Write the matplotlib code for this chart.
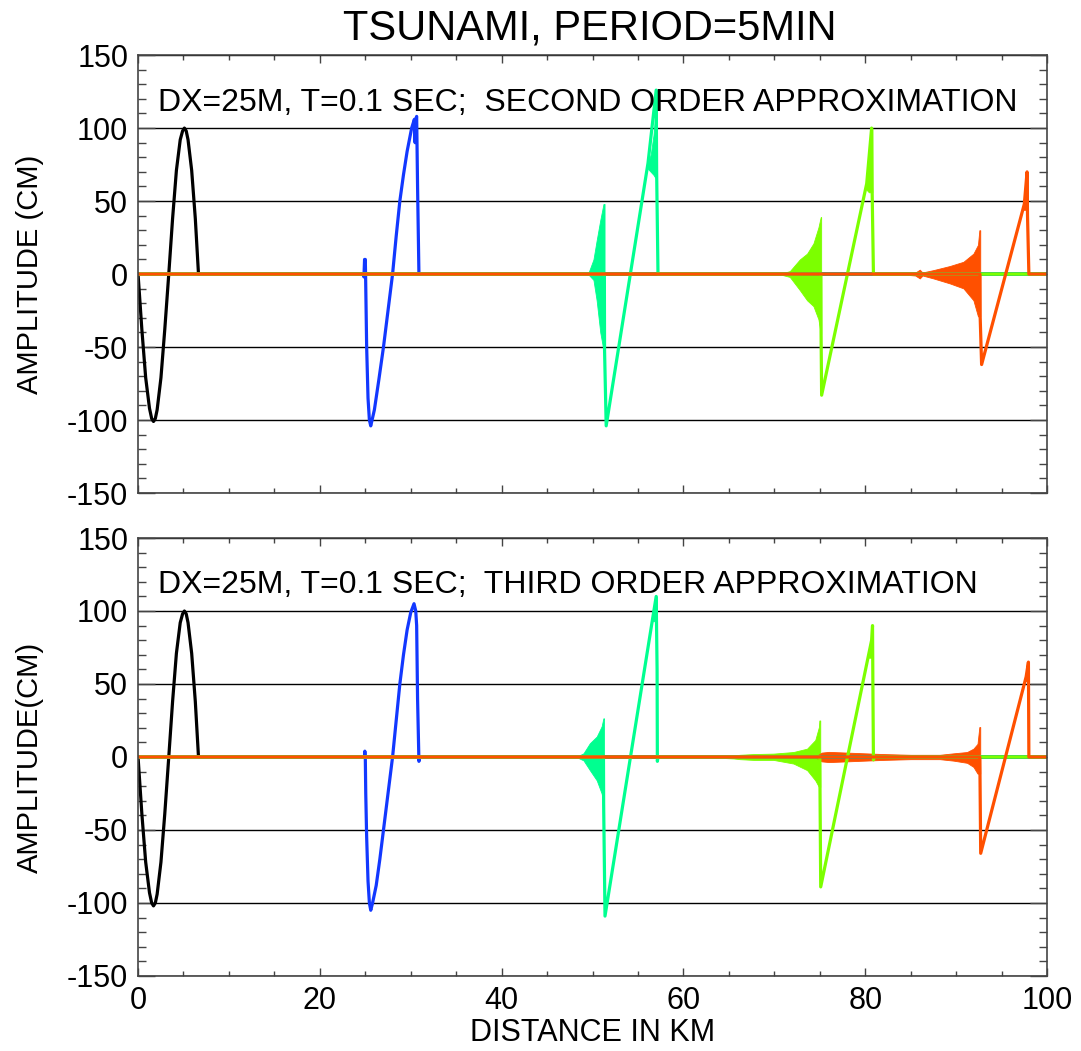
import numpy as np
import matplotlib
matplotlib.use("Agg")
import matplotlib.pyplot as plt
from matplotlib.ticker import MultipleLocator

plt.rcParams['font.family'] = ['Liberation Sans', 'DejaVu Sans']
plt.rcParams['axes.unicode_minus'] = False

# ---------------- data (km, cm) ----------------
# top panel: second order approximation
top_black_x = [0, 0.42, 0.84, 1.26, 1.5, 1.7, 1.9, 2.1, 2.52, 2.94, 3.38, 3.8, 4.22, 4.64, 4.9, 5.1, 5.3, 5.5, 5.9, 6.3, 6.65, 100]
top_black_y = [0, -38, -71, -92, -99, -101, -99, -93, -71, -38, 0, 38, 71, 92, 98, 100, 98, 92, 71, 38, 0, 0]

top_blue_x = [0, 24.75, 24.85, 24.92, 25.0, 25.03, 25.15, 25.3, 25.45, 25.6, 26.0, 26.5, 27.0, 27.5, 28.0,
              28.4, 28.8, 29.2, 29.6, 30.1, 30.4, 30.48, 30.55, 30.65, 30.75, 30.9, 100]
top_blue_y = [0, 0, -2, 10, 10, 0, -50, -85, -100, -104, -93, -72, -50, -25, 0,
              26, 50, 68, 84, 100, 106, 90, 106, 108, 60, 0, 0]

top_green_x = [0, 51.3, 51.32, 51.5, 56.1, 57.0, 57.05, 57.2, 100]
top_green_y = [0, 0, -52, -104, 76, 126, 70, 0, 0]
top_green_env_x = [49.5, 50.1, 50.45, 50.85, 51.2, 51.32]
top_green_env_lo = [0, -4, -18, -40, -52, -55]
top_green_env_hi = [0, 10, 23, 37, 48, 48]
top_green_crest_x = [56.1, 56.4, 56.7, 56.9, 57.0, 57.08]
top_green_crest_lo = [72, 70, 68, 66, 66, 66]
top_green_crest_hi = [76, 82, 95, 110, 126, 126]

top_lime_x = [0, 75.12, 75.14, 75.2, 80.16, 80.7, 80.75, 80.9, 100]
top_lime_y = [0, 0, -41, -83, 62, 100, 60, 0, 0]
top_lime_env_x = [70.5, 71.7, 72.8, 73.6, 74.3, 74.85, 75.1, 75.15]
top_lime_env_lo = [0, -2, -11, -18, -22, -31, -41, -41]
top_lime_env_hi = [0, 2, 10, 14, 21, 32, 39, 39]
top_lime_crest_x = [80.1, 80.4, 80.6, 80.7, 80.78]
top_lime_crest_lo = [58, 56, 56, 56, 56]
top_lime_crest_hi = [62, 75, 88, 100, 100]

top_orange_x = [0, 92.62, 92.64, 92.8, 97.5, 97.8, 97.85, 98.0, 100]
top_orange_y = [0, 0, -29, -62, 48, 70, 40, 0, 0]
top_orange_env_x = [83.5, 85.5, 86.0, 86.3, 86.6, 87.5, 89.3, 90.8, 91.9, 92.4, 92.55, 92.65]
top_orange_env_lo = [0, -1, -3, -1, -1.5, -3, -6.4, -9.8, -18, -29, -29, -29]
top_orange_env_hi = [0, 1, 3, 1, 1.5, 2.7, 5.5, 8.4, 14, 20, 30, 30]
top_orange_crest_x = [97.4, 97.6, 97.8, 97.9]
top_orange_crest_lo = [44, 44, 44, 44]
top_orange_crest_hi = [48, 55, 70, 70]

# bottom panel: third order approximation
bot_black_x = [0, 0.42, 0.84, 1.26, 1.5, 1.7, 1.9, 2.1, 2.52, 2.94, 3.38, 3.8, 4.22, 4.64, 4.9, 5.1, 5.3, 5.5, 5.9, 6.3, 6.65, 100]
bot_black_y = [0, -39, -72, -93, -100, -102, -100, -94, -72, -39, 0, 38, 71, 92, 98, 100, 98, 92, 71, 38, 0, 0]

bot_blue_x = [0, 24.9, 24.95, 25.0, 25.05, 25.15, 25.3, 25.45, 25.6, 25.8, 26.2, 26.6, 27.0, 27.5, 28.0,
              28.4, 28.8, 29.2, 29.6, 30.0, 30.36, 30.55, 30.65, 30.75, 30.9, 31.0, 100]
bot_blue_y = [0, 0, 4, 0, -25, -55, -85, -100, -105, -100, -88, -70, -50, -25, 0,
              25, 50, 70, 87, 99, 105, 100, 90, 40, -3, 0, 0]

bot_green_x = [0, 51.2, 51.22, 51.37, 57.0, 57.1, 57.13, 57.2, 100]
bot_green_y = [0, 0, -32, -109, 110, 60, -3, 0, 0]
bot_green_env_x = [48.2, 49.0, 49.7, 50.46, 51.0, 51.19, 51.25]
bot_green_env_lo = [0, -2.3, -9, -16, -25, -32, -32]
bot_green_env_hi = [0, 2.5, 9.4, 14, 21, 26.5, 26.5]
bot_green_crest_x = [56.6, 56.8, 57.0, 57.08]
bot_green_crest_lo = [93, 93, 95, 95]
bot_green_crest_hi = [95, 103, 110, 110]

bot_lime_x = [0, 75.0, 75.02, 75.1, 80.7, 80.8, 80.85, 80.9, 81.0, 100]
bot_lime_y = [0, 0, -20, -89, 80, 90, 40, -2, 0, 0]
bot_lime_env_x = [62, 65.5, 66.2, 67.7, 69.9, 72.1, 73.6, 74.5, 74.9, 74.95, 75.05]
bot_lime_env_lo = [0, -1, -1.5, -2, -2, -4.5, -9, -16, -20.5, -20.5, -20.5]
bot_lime_env_hi = [0, 1, 1.5, 2, 2.3, 3.4, 5.7, 11.6, 20.5, 25, 25]
bot_lime_crest_x = [80.4, 80.6, 80.8, 80.85]
bot_lime_crest_lo = [68, 68, 68, 68]
bot_lime_crest_hi = [72, 80, 90, 90]

bot_orange_x = [0, 92.6, 92.62, 92.7, 97.7, 97.95, 98.0, 100]
bot_orange_y = [0, 0, -11, -66, 55, 65, 0, 0]
bot_orange_env_x = [74.5, 75.2, 76, 78, 80, 82, 85, 88.2, 89.7, 91.2, 91.9, 92.35, 92.55, 92.65]
bot_orange_env_lo = [0, -3, -3.5, -3, -2.5, -2, -1.5, -1.5, -2.5, -4, -6.8, -11.4, -11.4, -11.4]
bot_orange_env_hi = [0, 3, 3.5, 3, 2.5, 2, 1.5, 1.5, 2.5, 3.4, 5.7, 9, 20.5, 20.5]
bot_orange_crest_x = [97.6, 97.8, 97.95, 98.0]
bot_orange_crest_lo = [52, 52, 52, 52]
bot_orange_crest_hi = [55, 60, 65, 65]

colors = ['black', '#1238ff', '#00ff90', '#7cff00', '#ff5000']

top_series = [
    (top_black_x, top_black_y, None, None),
    (top_blue_x, top_blue_y, None, None),
    (top_green_x, top_green_y,
     (top_green_env_x, top_green_env_lo, top_green_env_hi),
     (top_green_crest_x, top_green_crest_lo, top_green_crest_hi)),
    (top_lime_x, top_lime_y,
     (top_lime_env_x, top_lime_env_lo, top_lime_env_hi),
     (top_lime_crest_x, top_lime_crest_lo, top_lime_crest_hi)),
    (top_orange_x, top_orange_y,
     (top_orange_env_x, top_orange_env_lo, top_orange_env_hi),
     (top_orange_crest_x, top_orange_crest_lo, top_orange_crest_hi)),
]
bot_series = [
    (bot_black_x, bot_black_y, None, None),
    (bot_blue_x, bot_blue_y, None, None),
    (bot_green_x, bot_green_y,
     (bot_green_env_x, bot_green_env_lo, bot_green_env_hi),
     (bot_green_crest_x, bot_green_crest_lo, bot_green_crest_hi)),
    (bot_lime_x, bot_lime_y,
     (bot_lime_env_x, bot_lime_env_lo, bot_lime_env_hi),
     (bot_lime_crest_x, bot_lime_crest_lo, bot_lime_crest_hi)),
    (bot_orange_x, bot_orange_y,
     (bot_orange_env_x, bot_orange_env_lo, bot_orange_env_hi),
     (bot_orange_crest_x, bot_orange_crest_lo, bot_orange_crest_hi)),
]

fig = plt.figure(figsize=(10.81, 10.51), dpi=100)
ax_top = fig.add_axes([0.1277, 0.5309, 0.8409, 0.4167])
ax_bot = fig.add_axes([0.1277, 0.0714, 0.8409, 0.4167])

def setup(ax, show_x):
    ax.set_xlim(0, 100)
    ax.set_ylim(-150, 150)
    ax.xaxis.set_major_locator(MultipleLocator(20))
    ax.xaxis.set_minor_locator(MultipleLocator(5))
    ax.yaxis.set_major_locator(MultipleLocator(50))
    ax.yaxis.set_minor_locator(MultipleLocator(10))
    for s in ax.spines.values():
        s.set_color('#444444')
        s.set_linewidth(1.2)
    ax.tick_params(axis='x', which='major', direction='in', length=6, width=1, color='#444444',
                   top=True, bottom=True, labelsize=22, pad=7, labelbottom=show_x)
    ax.tick_params(axis='x', which='minor', direction='in', length=3.3, width=1, color='#444444',
                   top=True, bottom=True)
    ax.tick_params(axis='y', which='major', direction='in', length=12, width=1, color='#444444',
                   left=True, right=True, labelsize=22, pad=7)
    ax.tick_params(axis='y', which='minor', direction='in', length=5.8, width=1, color='#444444',
                   left=True, right=True)
    ax.yaxis.grid(True, which='major', color='black', linewidth=1.0)
    ax.set_axisbelow(True)

def draw(ax, series):
    for (x, y, env, crest), c in zip(series, colors):
        if env is not None:
            ax.fill_between(env[0], env[1], env[2], color=c, linewidth=0.6, edgecolor=c)
        if crest is not None:
            ax.fill_between(crest[0], crest[1], crest[2], color=c, linewidth=0.6, edgecolor=c)
        ax.plot(x, y, color=c, linewidth=2.3, solid_joinstyle='round')

setup(ax_top, False)
setup(ax_bot, True)
draw(ax_top, top_series)
draw(ax_bot, bot_series)

ax_top.text(0.022, 0.89, 'DX=25M, T=0.1 SEC;  SECOND ORDER APPROXIMATION',
            transform=ax_top.transAxes, fontsize=23, ha='left', va='center')
ax_bot.text(0.022, 0.893, 'DX=25M, T=0.1 SEC;  THIRD ORDER APPROXIMATION',
            transform=ax_bot.transAxes, fontsize=23, ha='left', va='center')

ax_top.set_ylabel('AMPLITUDE (CM)', fontsize=21)
ax_top.yaxis.set_label_coords(-0.119, 0.5)
ax_top.yaxis.label.set_va('center')
ax_bot.set_ylabel('AMPLITUDE(CM)', fontsize=21)
ax_bot.yaxis.set_label_coords(-0.119, 0.5)
ax_bot.yaxis.label.set_va('center')
ax_bot.set_xlabel('DISTANCE IN KM', fontsize=22)
ax_bot.xaxis.set_label_coords(0.5, -0.13)
ax_bot.xaxis.label.set_va('center')

fig.text(0.5455, 0.973, 'TSUNAMI, PERIOD=5MIN', fontsize=30, ha='center', va='center')

fig.savefig('out.png', dpi=100)
